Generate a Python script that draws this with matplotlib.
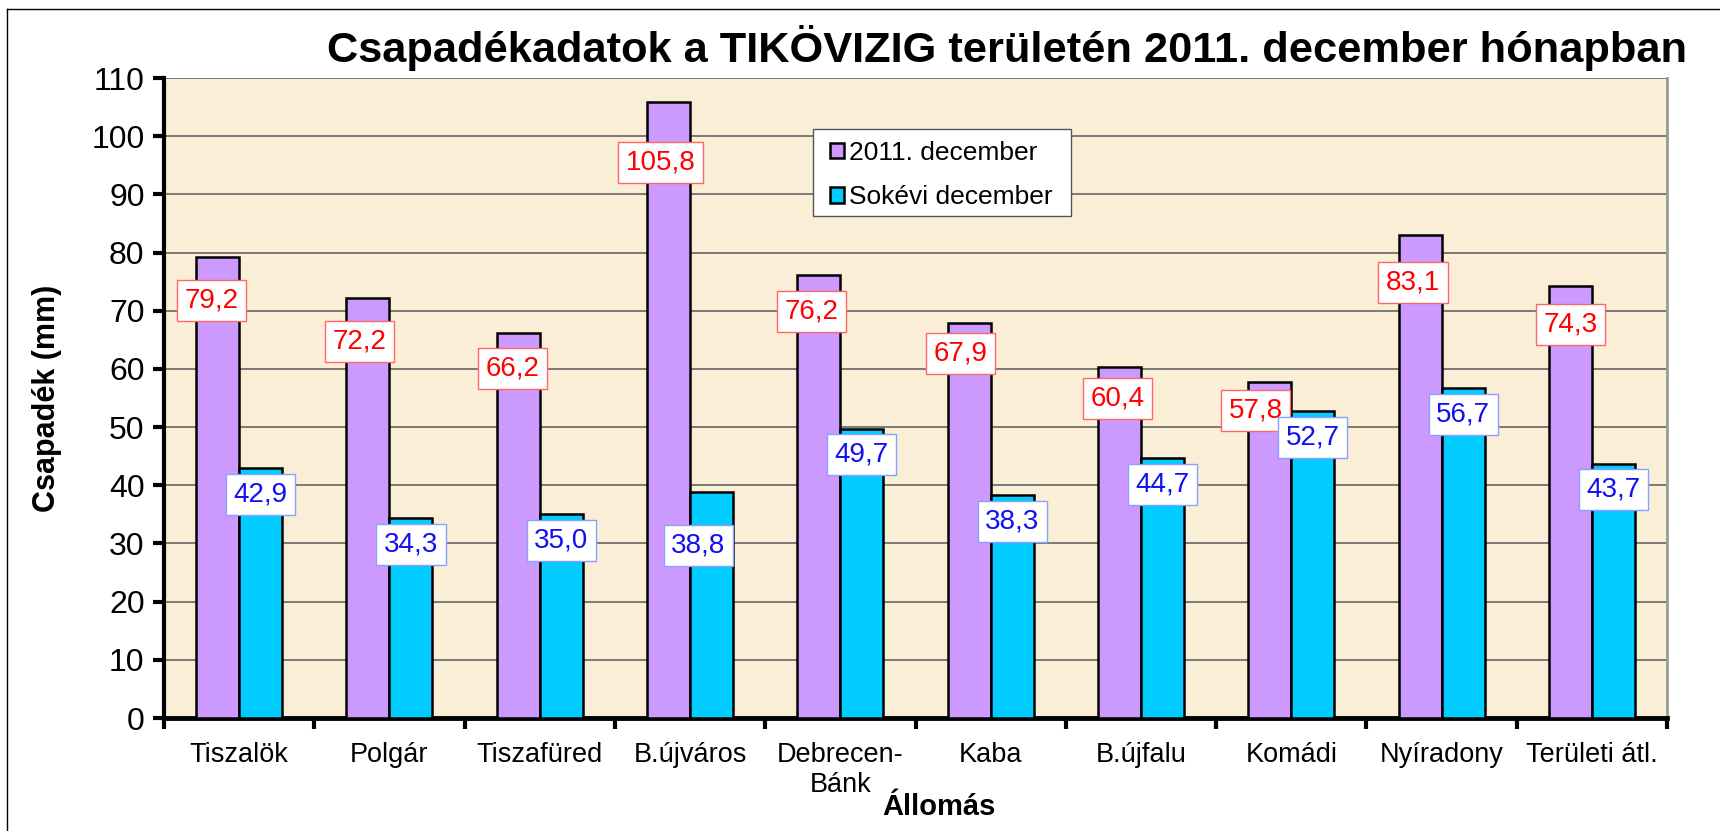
import matplotlib.pyplot as plt
from matplotlib.patches import Rectangle
from matplotlib.lines import Line2D

plt.rcParams['font.family'] = ['Liberation Sans', 'DejaVu Sans']

stations = ['Tiszalök', 'Polgár', 'Tiszafüred', 'B.újváros', 'Debrecen-\nBánk',
            'Kaba', 'B.újfalu', 'Komádi', 'Nyíradony', 'Területi átl.']
dec_2011 = [79.2, 72.2, 66.2, 105.8, 76.2, 67.9, 60.4, 57.8, 83.1, 74.3]
dec_longterm = [42.9, 34.3, 35.0, 38.8, 49.7, 38.3, 44.7, 52.7, 56.7, 43.7]

# label placement (as dragged in the original): x shift in category units, drop below bar top in mm
lab1_dx = [-0.043, -0.057, -0.04, -0.053, -0.05, -0.06, -0.013, -0.093, -0.047, 0.0]
lab1_dy = [7.4, 7.5, 6.2, 10.3, 6.3, 5.2, 5.5, 4.9, 8.2, 6.6]
lab2_dx = [0, 0, 0, -0.087, 0, 0, 0, 0, 0, 0]
lab2_dy = [4.5, 4.5, 4.5, 9.1, 4.4, 4.5, 4.5, 4.5, 4.5, 4.5]

W, H = 1720, 831
fig = plt.figure(figsize=(W / 100, H / 100), dpi=100)
ax = fig.add_axes([164 / W, 1 - 718 / H, 1503 / W, 640 / H])
ax.set_facecolor('#FBEED6')

w = 0.286
x = [i + 0.5 for i in range(len(stations))]
b1 = ax.bar([xi - w / 2 for xi in x], dec_2011, w, color='#CC99FF',
            edgecolor='black', linewidth=1.8, label='2011. december', zorder=3)
b2 = ax.bar([xi + w / 2 for xi in x], dec_longterm, w, color='#00CCFF',
            edgecolor='black', linewidth=1.8, label='Sokévi december', zorder=3)

def fmt(v):
    return f'{v:.1f}'.replace('.', ',')

for i, xi in enumerate(x):
    ax.text(xi - w / 2 + lab1_dx[i], dec_2011[i] - lab1_dy[i], fmt(dec_2011[i]),
            ha='center', va='center', fontsize=20, color='#FF0000', zorder=5,
            bbox=dict(boxstyle='square,pad=0.27', fc='white', ec='#FF6666', lw=1))
    ax.text(xi + w / 2 + lab2_dx[i], dec_longterm[i] - lab2_dy[i], fmt(dec_longterm[i]),
            ha='center', va='center', fontsize=20, color='#1010F0', zorder=5,
            bbox=dict(boxstyle='square,pad=0.27', fc='white', ec='#88A0FF', lw=1))

ax.set_xlim(0, 10)
ax.set_ylim(0, 110)
ax.set_yticks(range(0, 111, 10))
ax.set_xticks(x, stations)
ax.set_xticks(range(0, 11), minor=True)
ax.tick_params(axis='x', which='major', length=0, pad=17, labelsize=19.5)
ax.tick_params(axis='x', which='minor', length=8, width=3, direction='out')
ax.tick_params(axis='y', length=8, width=3, direction='out', pad=6, labelsize=23)
ax.grid(axis='y', color='#666666', linewidth=1.2)
ax.set_axisbelow(True)

ax.spines['top'].set_visible(False)
ax.spines['right'].set_color('#999999')
ax.spines['right'].set_linewidth(2)
ax.spines['left'].set_linewidth(3)
ax.spines['bottom'].set_linewidth(3.5)

fig.text(1007 / W, 1 - 48 / H, 'Csapadékadatok a TIKÖVIZIG területén 2011. december hónapban',
         ha='center', va='center', fontsize=31.2, fontweight='bold')
fig.text(47 / W, 1 - 398 / H, 'Csapadék (mm)', rotation=90, ha='center', va='center',
         fontsize=22, fontweight='bold')
fig.text(939 / W, 1 - 807 / H, 'Állomás', ha='center', va='center',
         fontsize=21, fontweight='bold')

# legend box
fig.add_artist(Rectangle((813 / W, 1 - 216 / H), 258 / W, 87 / H, transform=fig.transFigure,
                         fc='white', ec='#555555', lw=1, zorder=4))
fig.legend(handles=[b1, b2], loc='upper left', bbox_to_anchor=(830 / W, 1 - 141 / H),
           frameon=False, fontsize=19, borderpad=0, borderaxespad=0,
           handlelength=0.53, handleheight=0.53, handletextpad=0.2,
           labelspacing=0.77)

# outer chart border (clipped at right and bottom in the original)
fig.add_artist(Line2D([7 / W, 7 / W], [0, 1 - 9 / H], color='black', lw=1))
fig.add_artist(Line2D([7 / W, 1], [1 - 9 / H, 1 - 9 / H], color='black', lw=1))

fig.savefig('out.png', dpi=100)
